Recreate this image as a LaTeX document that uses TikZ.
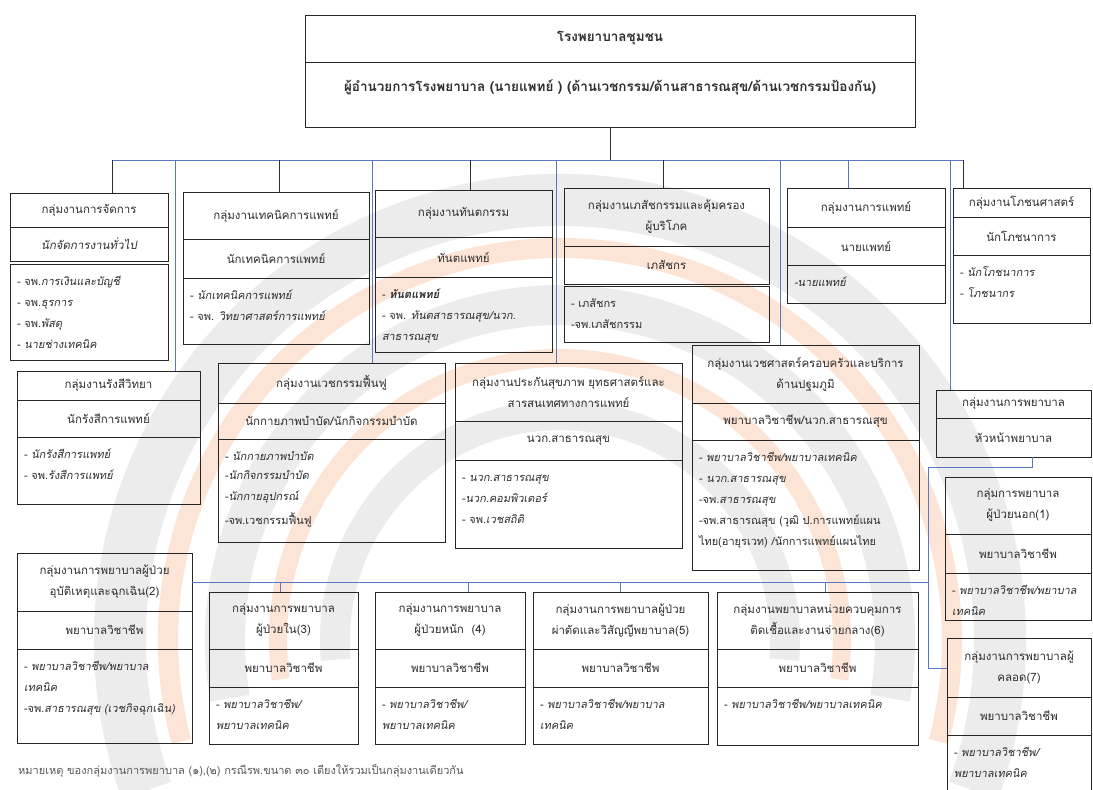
\documentclass[tikz,border=0pt]{standalone}
\usepackage{fontspec}
\setmainfont{Loma}[Script=Thai]
\newfontfamily\thai{Loma}[Script=Thai]
\newfontfamily\thaiit{Loma}[Script=Thai,FakeSlant=0.18]
\definecolor{boxc}{HTML}{262626}
\definecolor{txtc}{HTML}{2E2E2E}
\definecolor{linec}{HTML}{303030}
\definecolor{bluec}{HTML}{5A78C0}
\definecolor{wmG}{RGB}{236,236,236}
\definecolor{wmO}{RGB}{252,229,214}
\newcommand\tfont{\fontsize{11.5}{21}\selectfont\thai}
\newcommand\lfont{\fontsize{11}{21}\selectfont\thai}
\newcommand\itl[1]{{\thaiit #1}}
% title / role section: name, x, y, width, height, text
\newcommand\tsec[6]{\node[sec,minimum width=#4pt,minimum height=#5pt] (#1) at (#2,#3) {#6};}
% list section, text set from the top
\newcommand\lsec[6]{\node[sec,inner sep=0pt,minimum width=#4pt,minimum height=#5pt] (#1) at (#2,#3)
  {\parbox[c][\dimexpr#5pt-1pt\relax][t]{\dimexpr#4pt-14pt\relax}{\raggedright\lfont\rule{0pt}{21pt}#6}};}
\begin{document}
\begin{tikzpicture}[x=1pt,y=-1pt,
  sec/.style={draw=boxc,line width=0.9pt,outer sep=0pt,inner sep=2pt,anchor=north west,
    align=center,text=txtc,font=\tfont},
  link/.style={draw=linec,line width=0.8pt},
  blink/.style={draw=bluec,line width=0.8pt},
  wm/.style={line width=#1}]
\useasboundingbox (0,0) rectangle (1093,790);
\fill[white] (0,0) rectangle (1093,790);

% faint emblem in the background
\begin{scope}
\clip (0,0) rectangle (1093,790);
\draw[wmG,wm=52pt] (560,640) ++(160:440) arc[start angle=160,end angle=380,radius=440];
\draw[wmO,wm=20pt] (560,640) ++(165:392) arc[start angle=165,end angle=375,radius=392];
\draw[wmG,wm=40pt] (560,640) ++(170:335) arc[start angle=170,end angle=370,radius=335];
\draw[wmO,wm=18pt] (560,640) ++(172:282) arc[start angle=172,end angle=368,radius=282];
\draw[wmG,wm=30pt] (560,640) ++(175:225) arc[start angle=175,end angle=365,radius=225];
\end{scope}

% top
\node[sec,minimum width=610pt,minimum height=47pt,font=\fontsize{13.5}{16}\selectfont\thai\bfseries] (hosp) at (305,15) {โรงพยาบาลชุมชน};
\node[sec,minimum width=610pt,minimum height=65pt,text depth=18pt,font=\fontsize{13.5}{16}\selectfont\thai\bfseries] (dir) at (305,62) {ผู้อำนวยการโรงพยาบาล (นายแพทย์ ) (ด้านเวชกรรม/ด้านสาธารณสุข/ด้านเวชกรรมป้องกัน)};

% first row
\tsec{mgT}{10}{193}{158}{34}{กลุ่มงานการจัดการ}
\tsec{mgR}{10}{227}{158}{34}{\thaiit นักจัดการงานทั่วไป}
\lsec{mgL}{10}{264}{158}{96}{- จพ.\itl{การเงินและบัญชี}\\- จพ.\itl{ธุรการ}\\- จพ.\itl{พัสดุ}\\- \itl{นายช่างเทคนิค}}

\tsec{teT}{183}{192}{186}{47}{กลุ่มงานเทคนิคการแพทย์}
\tsec{teR}{183}{239}{186}{39}{นักเทคนิคการแพทย์}
\lsec{teL}{183}{278}{186}{66}{- \itl{นักเทคนิคการแพทย์}\\- จพ. \itl{วิทยาศาสตร์การแพทย์}}

\tsec{deT}{375}{190}{177}{47}{กลุ่มงานทันตกรรม}
\tsec{deR}{375}{237}{177}{40}{ทันตแพทย์}
\lsec{deL}{375}{277}{177}{75}{- \itl{\bfseries ทันตแพทย์}\\- จพ. \itl{ทันตสาธารณสุข/นวก.}\\\itl{สาธารณสุข}}

\tsec{phT}{564}{188}{205}{58}{กลุ่มงานเภสัชกรรมและคุ้มครอง\\ผู้บริโภค}
\tsec{phR}{564}{246}{205}{38}{เภสัชกร}
\lsec{phL}{564}{286}{205}{56}{- เภสัชกร\\-จพ.เภสัชกรรม}

\tsec{meT}{787}{188}{158}{39}{กลุ่มงานการแพทย์}
\tsec{meR}{787}{227}{158}{38}{นายแพทย์}
\lsec{meL}{787}{265}{158}{38}{\itl{-นายแพทย์}}

\tsec{nuT}{953}{188}{137}{29}{กลุ่มงานโภชนศาสตร์}
\tsec{nuR}{953}{217}{137}{38}{นักโภชนาการ}
\lsec{nuL}{953}{255}{137}{68}{- \itl{นักโภชนาการ}\\- \itl{โภชนากร}}

% second row
\tsec{raT}{17}{371}{183}{29}{กลุ่มงานรังสีวิทยา}
\tsec{raR}{17}{400}{183}{37}{นักรังสีการแพทย์}
\lsec{raL}{17}{437}{183}{67}{- \itl{นักรังสีการแพทย์}\\- จพ.\itl{รังสีการแพทย์}}

\tsec{rhT}{218}{363}{227}{40}{กลุ่มงานเวชกรรมฟื้นฟู}
\tsec{rhR}{218}{403}{227}{36}{นักกายภาพบำบัด/นักกิจกรรมบำบัด}
\lsec{rhL}{218}{439}{227}{103}{\vspace*{-2pt}- \itl{นักกายภาพบำบัด}\\-\itl{นักกิจกรรมบำบัด}\\-\itl{นักกายอุปกรณ์}\\[2.5pt]-จพ.เวชกรรมฟื้นฟู}

\tsec{inT}{455}{363}{227}{58}{กลุ่มงานประกันสุขภาพ ยุทธศาสตร์และ\\สารสนเทศทางการแพทย์}
\tsec{inR}{455}{421}{227}{39}{นวก.สาธารณสุข}
\lsec{inL}{455}{460}{227}{88}{- \itl{นวก.สาธารณสุข}\\-\itl{นวก.คอมพิวเตอร์}\\- จพ.\itl{เวชสถิติ}}

\tsec{faT}{692}{345}{227}{58}{กลุ่มงานเวชศาสตร์ครอบครัวและบริการ\\ด้านปฐมภูมิ}
\tsec{faR}{692}{403}{227}{37}{พยาบาลวิชาชีพ/นวก.สาธารณสุข}
\lsec{faL}{692}{440}{227}{130}{- \itl{พยาบาลวิชาชีพ/พยาบาลเทคนิค}\\- \itl{นวก.สาธารณสุข}\\-จพ.\itl{สาธารณสุข}\\-จพ.สาธารณสุข (วุฒิ ป.การแพทย์แผน\\ไทย(อายุรเวท) /นักการแพทย์แผนไทย}

\tsec{ngT}{936}{390}{155}{28}{กลุ่มงานการพยาบาล}
\tsec{ngR}{936}{418}{155}{39}{หัวหน้าพยาบาล}

% nursing groups
\tsec{o1T}{945}{477}{146}{57}{กลุ่มการพยาบาล\\ผู้ป่วยนอก(1)}
\tsec{o1R}{945}{534}{146}{39}{พยาบาลวิชาชีพ}
\lsec{o1L}{945}{573}{146}{47}{-~\itl{พยาบาลวิชาชีพ/พยาบาล}\\\itl{เทคนิค}}

\tsec{e2T}{17}{553}{175}{58}{กลุ่มงานการพยาบาลผู้ป่วย\\อุบัติเหตุและฉุกเฉิน(2)}
\tsec{e2R}{17}{611}{175}{38}{พยาบาลวิชาชีพ}
\lsec{e2L}{17}{649}{175}{94}{-~\itl{พยาบาลวิชาชีพ/พยาบาล}\\\itl{เทคนิค}\\-จพ.\itl{สาธารณสุข (เวชกิจฉุกเฉิน)}}

\tsec{i3T}{209}{592}{149}{57}{กลุ่มงานการพยาบาล\\ผู้ป่วยใน(3)}
\tsec{i3R}{209}{649}{149}{38}{พยาบาลวิชาชีพ}
\lsec{i3L}{209}{687}{149}{57}{- \itl{พยาบาลวิชาชีพ/}\\\itl{พยาบาลเทคนิค}}

\tsec{c4T}{375}{592}{150}{57}{กลุ่มงานการพยาบาล\\ผู้ป่วยหนัก\ \ (4)}
\tsec{c4R}{375}{649}{150}{38}{พยาบาลวิชาชีพ}
\lsec{c4L}{375}{687}{150}{57}{- \itl{พยาบาลวิชาชีพ/}\\\itl{พยาบาลเทคนิค}}

\tsec{s5T}{533}{592}{175}{57}{กลุ่มงานการพยาบาลผู้ป่วย\\ผ่าตัดและวิสัญญีพยาบาล(5)}
\tsec{s5R}{533}{649}{175}{38}{พยาบาลวิชาชีพ}
\lsec{s5L}{533}{687}{175}{57}{-~\itl{พยาบาลวิชาชีพ/พยาบาล}\\\itl{เทคนิค}}

\tsec{x6T}{717}{592}{201}{57}{กลุ่มงานพยาบาลหน่วยควบคุมการ\\ติดเชื้อและงานจ่ายกลาง(6)}
\tsec{x6R}{717}{649}{201}{38}{พยาบาลวิชาชีพ}
\lsec{x6L}{717}{687}{201}{58}{-~\itl{พยาบาลวิชาชีพ/พยาบาลเทคนิค}}

\tsec{d7T}{947}{638}{144}{59}{กลุ่มงานการพยาบาลผู้\\คลอด(7)}
\tsec{d7R}{947}{697}{144}{38}{พยาบาลวิชาชีพ}
\lsec{d7L}{947}{735}{144}{70}{- \itl{พยาบาลวิชาชีพ/}\\\itl{พยาบาลเทคนิค}}

% note
\node[anchor=west,inner sep=0pt,text=txtc!80,font=\fontsize{11}{13}\selectfont\thai] (note) at (18,771)
  {หมายเหตุ ของกลุ่มงานการพยาบาล (๑),(๒) กรณีรพ.ขนาด ๓๐ เตียงให้รวมเป็นกลุ่มงานเดียวกัน};

% connectors from the director
\coordinate (busL) at (112,160);
\coordinate (busR) at (963,160);
\draw[blink] (busL) -- (busR);
\draw[link] (dir.south) -- (dir.south |- busL);
\foreach \px/\nd/\st in {112/mgT/link,175/raT/blink,279/teT/link,372/rhT/blink,470/deT/link,
    556/inT/blink,663/phT/link,780/faT/blink,848/meT/blink,950/ngT/blink,963/nuT/link}{
  \coordinate (bb) at (\px,160);
  \draw[\st] (bb) -- (bb |- \nd.north);
}

% connectors of the nursing groups
\coordinate (nA) at (1032,467);
\coordinate (nB) at (928,467);
\coordinate (nC) at (928,668);
\coordinate (nD) at (928,582);
\draw[blink] (nA |- ngR.south) -- (nA) -- (nB) -- (nC) -- (nC -| d7T.west);
\draw[blink] (nD -| e2T.east) -- (nD);
\foreach \px/\nd in {280/i3T,468/c4T,620/s5T,825/x6T}{
  \coordinate (bb) at (\px,582);
  \draw[blink] (bb) -- (bb |- \nd.north);
}
\end{tikzpicture}
\end{document}
